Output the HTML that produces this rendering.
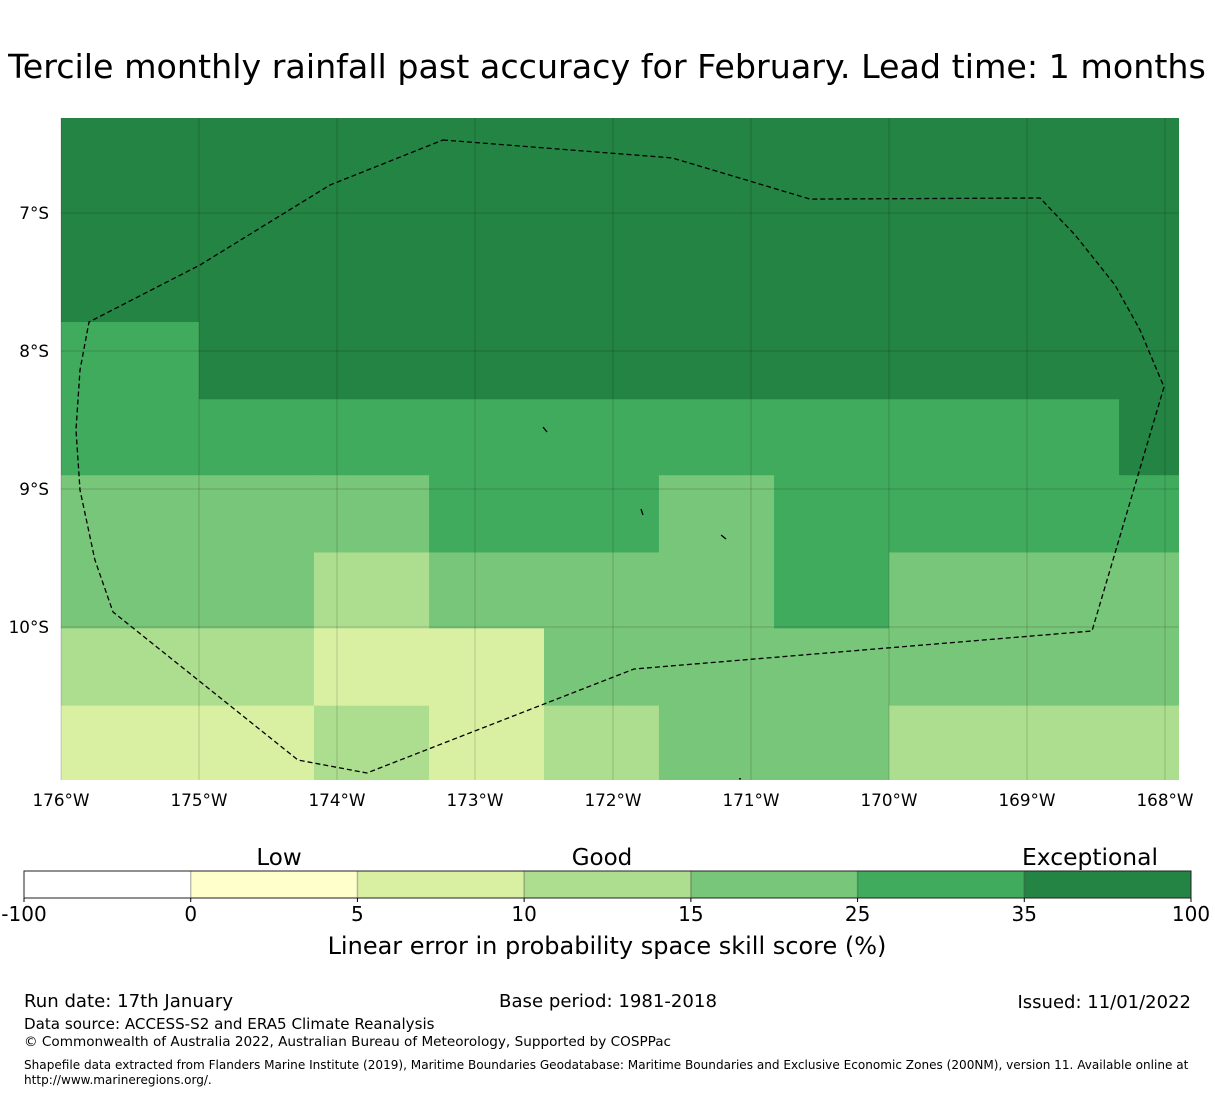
<!DOCTYPE html>
<html><head><meta charset="utf-8">
<style>
html,body{margin:0;padding:0;background:#fff;}
svg{display:block;font-family:"DejaVu Sans","Liberation Sans",sans-serif;}
</style></head>
<body>
<svg id="chart" width="1215" height="1095" viewBox="0 0 1215 1095">
<text x="607" y="78" font-size="33.3" text-anchor="middle">Tercile monthly rainfall past accuracy for February. Lead time: 1 months</text>
<g id="map"></g>
<g id="cbar"></g>
<text x="279" y="865" font-size="23" text-anchor="middle">Low</text>
<text x="602" y="865" font-size="23" text-anchor="middle">Good</text>
<text x="1090" y="865" font-size="23.4" text-anchor="middle">Exceptional</text>
<text x="607" y="954" font-size="24" text-anchor="middle">Linear error in probability space skill score (%)</text>
<text x="24" y="1007" font-size="18.1">Run date: 17th January</text>
<text x="608" y="1007" font-size="18.1" text-anchor="middle">Base period: 1981-2018</text>
<text x="1191" y="1008" font-size="18" text-anchor="end">Issued: 11/01/2022</text>
<text x="24" y="1029" font-size="15.1">Data source: ACCESS-S2 and ERA5 Climate Reanalysis</text>
<text x="24" y="1046" font-size="13.6">© Commonwealth of Australia 2022, Australian Bureau of Meteorology, Supported by COSPPac</text>
<text x="24" y="1069" font-size="12.07">Shapefile data extracted from Flanders Marine Institute (2019), Maritime Boundaries Geodatabase: Maritime Boundaries and Exclusive Economic Zones (200NM), version 11. Available online at</text>
<text x="24" y="1084" font-size="12.07">http://www.marineregions.org/.</text>
</svg>
<script>
const lonEdges = [-176, -175, -174.167, -173.333, -172.5, -171.667, -170.833, -170, -169.167, -168.333, -167.5];
const latEdges = [-6.0, -6.68, -7.24, -7.79, -8.35, -8.90, -9.46, -10.01, -10.57, -11.2];
const skill = [
 [40,40,40,40,40,40,40,40,40,40],
 [40,40,40,40,40,40,40,40,40,40],
 [40,40,40,40,40,40,40,40,40,40],
 [30,40,40,40,40,40,40,40,40,40],
 [30,30,30,30,30,30,30,30,30,40],
 [20,20,20,30,30,20,30,30,30,30],
 [20,20,12,20,20,20,30,20,20,20],
 [12,12,7,7,20,20,20,20,20,20],
 [7,7,12,7,12,20,20,12,12,12]
];
const lonTicks = [-176,-175,-174,-173,-172,-171,-170,-169,-168];
const lonTickLabels = ["176°W","175°W","174°W","173°W","172°W","171°W","170°W","169°W","168°W"];
const latTicks = [-7,-8,-9,-10];
const latTickLabels = ["7°S","8°S","9°S","10°S"];
const eezLon = [-173.232,-171.572,-170.572,-168.906,-168.652,-168.362,-168.181,-168.007,-168.529,-171.848,-173.783,-174.283,-175.623,-175.754,-175.862,-175.891,-175.862,-175.797,-174.993,-174.051];
const eezLat = [-6.471,-6.601,-6.899,-6.891,-7.159,-7.522,-7.848,-8.261,-10.029,-10.304,-11.058,-10.964,-9.891,-9.514,-9.007,-8.572,-8.138,-7.790,-7.377,-6.797];
const islandLon = [[-172.507,-172.478],[-171.797,-171.783],[-171.217,-171.181],[-171.087,-171.072]];
const islandLat = [[-8.551,-8.587],[-9.145,-9.188],[-9.333,-9.362],[-11.10,-11.10]];
const cbarBounds = [-100,0,5,10,15,25,35,100];
const cbarColors = ["#ffffff","#ffffcc","#d9f0a3","#addd8e","#78c679","#41ab5d","#238443"];

const NS = "http://www.w3.org/2000/svg";
const X0 = 61, X1 = 1179, Y0 = 118, Y1 = 780;
const xScale = lon => 61 + (lon + 176) * 138;
const yScale = lat => 213 + (-7 - lat) * 138;
const clampX = v => Math.max(X0, Math.min(X1, v));
const clampY = v => Math.max(Y0, Math.min(Y1, v));
function colorFor(v){ for(let i=0;i<cbarColors.length;i++){ if(v < cbarBounds[i+1]) return cbarColors[i]; } return cbarColors[cbarColors.length-1]; }
function mk(tag, attrs, parent){ const e = document.createElementNS(NS, tag); for(const k in attrs) e.setAttribute(k, attrs[k]); parent.appendChild(e); return e; }

const map = document.getElementById('map');
for(let r=0;r<skill.length;r++){
  for(let c=0;c<skill[r].length;c++){
    const xa = clampX(xScale(lonEdges[c])), xb = clampX(xScale(lonEdges[c+1]));
    const ya = clampY(yScale(latEdges[r])), yb = clampY(yScale(latEdges[r+1]));
    const rc = mk('rect', {x:xa, y:ya, width:Math.min(xb-xa+0.5, X1-xa), height:Math.min(yb-ya+0.5, Y1-ya), fill:colorFor(skill[r][c])}, map);
    
    
  }
}
lonTicks.forEach((lon,i)=>{
  const x = xScale(lon);
  const l = mk('line', {x1:x, x2:x, y1:Y0, y2:Y1, stroke:"rgba(0,0,0,0.35)", 'stroke-width':0.5}, map);
  
  
  const t = mk('text', {x:x, y:806, 'font-size':16.8, 'text-anchor':'middle'}, map);
  t.textContent = lonTickLabels[i];
  
  
});
latTicks.forEach((lat,i)=>{
  const y = yScale(lat);
  const l = mk('line', {x1:X0, x2:X1, y1:y, y2:y, stroke:"rgba(0,0,0,0.35)", 'stroke-width':0.5}, map);
  
  
  const t = mk('text', {x:49, y:y+6, 'font-size':16.8, 'text-anchor':'end'}, map);
  t.textContent = latTickLabels[i];
  
  
});
const pts = eezLon.map((lon,i)=> xScale(lon).toFixed(1)+','+yScale(eezLat[i]).toFixed(1)).join(' ');
const eez = mk('polygon', {points:pts, fill:'none', stroke:'#000', 'stroke-width':1.3, 'stroke-dasharray':'5,3'}, map);


islandLon.forEach((lons,i)=>{
  const p = mk('line', {x1:xScale(lons[0]), y1:yScale(islandLat[i][0]), x2:xScale(lons[1])+(lons[0]===lons[1]?1:0), y2:yScale(islandLat[i][1]), stroke:'#000', 'stroke-width':1.3}, map);
  
  
});

const cbar = document.getElementById('cbar');
const CX0 = 24, CX1 = 1191, CY = 871, CH = 27;
const segW = (CX1-CX0)/cbarColors.length;
cbarColors.forEach((col,i)=>{
  const s = mk('rect', {x:CX0+i*segW, y:CY, width:segW, height:CH, fill:col}, cbar);
  
  
  if(i>0){
    const d = mk('line', {x1:CX0+i*segW, x2:CX0+i*segW, y1:CY, y2:CY+CH, stroke:'rgba(0,0,0,0.25)', 'stroke-width':1.5}, cbar);
    
    
  }
});
const fr = mk('rect', {x:CX0, y:CY, width:CX1-CX0, height:CH, fill:'none', stroke:'#222', 'stroke-width':1}, cbar);


cbarBounds.forEach((b,i)=>{
  const x = CX0 + i*segW;
  const tk = mk('line', {x1:x, x2:x, y1:CY+CH, y2:CY+CH+4, stroke:'#000', 'stroke-width':1}, cbar);
  
  
  const t = mk('text', {x:x, y:921, 'font-size':20, 'text-anchor':'middle'}, cbar);
  t.textContent = String(b);
  
  
});
</script>
</body></html>
